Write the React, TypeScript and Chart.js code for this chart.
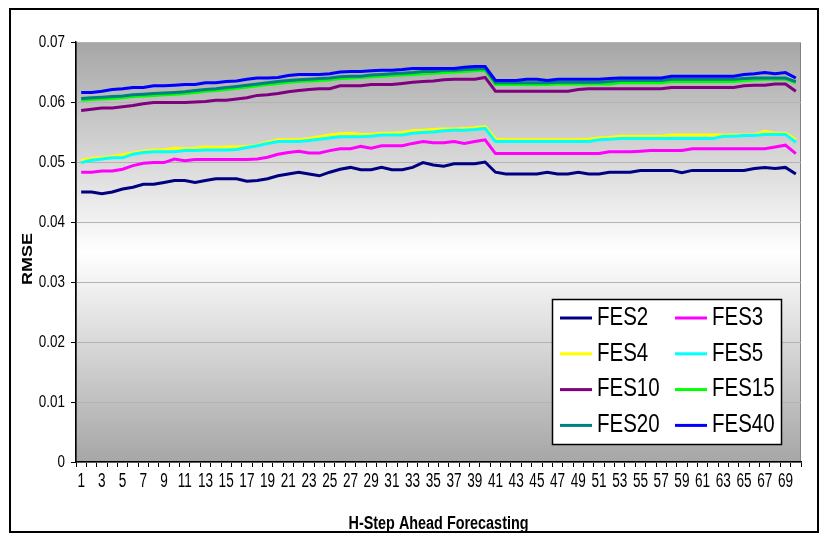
import { useEffect, useRef } from "react";
import { Chart, registerables } from "chart.js";

Chart.register(...registerables);

const FONT = "'Liberation Sans', Arial, Helvetica, sans-serif";

// Forecast horizon (steps ahead)
const steps = [
  "1", "2", "3", "4", "5", "6", "7", "8", "9", "10",
  "11", "12", "13", "14", "15", "16", "17", "18", "19", "20",
  "21", "22", "23", "24", "25", "26", "27", "28", "29", "30",
  "31", "32", "33", "34", "35", "36", "37", "38", "39", "40",
  "41", "42", "43", "44", "45", "46", "47", "48", "49", "50",
  "51", "52", "53", "54", "55", "56", "57", "58", "59", "60",
  "61", "62", "63", "64", "65", "66", "67", "68", "69", "70",
];

const yTicks = [0, 0.01, 0.02, 0.03, 0.04, 0.05, 0.06, 0.07];
const yTickLabels = ["0", "0.01", "0.02", "0.03", "0.04", "0.05", "0.06", "0.07"];

const xTitle = "H-Step Ahead Forecasting";
const yTitle = "RMSE";

// RMSE per horizon for each feature-set size
const fes2 = [
  0.0450, 0.0450, 0.0447, 0.0450, 0.0455, 0.0458, 0.0463, 0.0463, 0.0466, 0.0469,
  0.0469, 0.0466, 0.0469, 0.0472, 0.0472, 0.0472, 0.0468, 0.0469, 0.0472, 0.0477,
  0.0480, 0.0483, 0.0480, 0.0477, 0.0483, 0.0488, 0.0491, 0.0487, 0.0487, 0.0491,
  0.0487, 0.0487, 0.0491, 0.0499, 0.0495, 0.0493, 0.0497, 0.0497, 0.0497, 0.0500,
  0.0483, 0.0480, 0.0480, 0.0480, 0.0480, 0.0483, 0.0480, 0.0480, 0.0483, 0.0480,
  0.0480, 0.0483, 0.0483, 0.0483, 0.0486, 0.0486, 0.0486, 0.0486, 0.0482, 0.0486,
  0.0486, 0.0486, 0.0486, 0.0486, 0.0486, 0.0489, 0.0491, 0.0489, 0.0491, 0.0480,
];
const fes3 = [
  0.0483, 0.0483, 0.0485, 0.0485, 0.0488, 0.0494, 0.0498, 0.0499, 0.0499, 0.0505,
  0.0502, 0.0504, 0.0504, 0.0504, 0.0504, 0.0504, 0.0504, 0.0505, 0.0508, 0.0513,
  0.0516, 0.0518, 0.0515, 0.0515, 0.0519, 0.0522, 0.0522, 0.0526, 0.0523, 0.0527,
  0.0527, 0.0527, 0.0531, 0.0534, 0.0532, 0.0532, 0.0534, 0.0531, 0.0534, 0.0537,
  0.0514, 0.0514, 0.0514, 0.0514, 0.0514, 0.0514, 0.0514, 0.0514, 0.0514, 0.0514,
  0.0514, 0.0517, 0.0517, 0.0517, 0.0518, 0.0519, 0.0519, 0.0519, 0.0519, 0.0522,
  0.0522, 0.0522, 0.0522, 0.0522, 0.0522, 0.0522, 0.0522, 0.0525, 0.0528, 0.0514,
];
const fes4 = [
  0.0503, 0.0506, 0.0507, 0.0509, 0.0512, 0.0515, 0.0518, 0.0520, 0.0520, 0.0523,
  0.0522, 0.0523, 0.0525, 0.0524, 0.0525, 0.0525, 0.0526, 0.0528, 0.0533, 0.0537,
  0.0537, 0.0537, 0.0539, 0.0542, 0.0545, 0.0547, 0.0548, 0.0546, 0.0546, 0.0548,
  0.0548, 0.0549, 0.0552, 0.0553, 0.0554, 0.0555, 0.0555, 0.0556, 0.0557, 0.0559,
  0.0538, 0.0537, 0.0537, 0.0537, 0.0537, 0.0537, 0.0537, 0.0537, 0.0537, 0.0538,
  0.0540, 0.0541, 0.0543, 0.0543, 0.0543, 0.0543, 0.0543, 0.0545, 0.0545, 0.0545,
  0.0545, 0.0545, 0.0545, 0.0545, 0.0545, 0.0545, 0.0551, 0.0548, 0.0548, 0.0537,
];
const fes5 = [
  0.0499, 0.0503, 0.0505, 0.0507, 0.0507, 0.0513, 0.0516, 0.0517, 0.0517, 0.0517,
  0.0519, 0.0519, 0.0520, 0.0520, 0.0520, 0.0521, 0.0524, 0.0527, 0.0531, 0.0534,
  0.0534, 0.0534, 0.0536, 0.0538, 0.0540, 0.0542, 0.0542, 0.0542, 0.0543, 0.0545,
  0.0545, 0.0545, 0.0548, 0.0549, 0.0550, 0.0552, 0.0553, 0.0553, 0.0554, 0.0556,
  0.0534, 0.0534, 0.0534, 0.0534, 0.0534, 0.0534, 0.0534, 0.0534, 0.0534, 0.0534,
  0.0537, 0.0538, 0.0539, 0.0539, 0.0539, 0.0539, 0.0539, 0.0539, 0.0539, 0.0539,
  0.0539, 0.0539, 0.0543, 0.0543, 0.0544, 0.0544, 0.0546, 0.0546, 0.0546, 0.0533,
];
const fes10 = [
  0.0586, 0.0588, 0.0590, 0.0590, 0.0592, 0.0594, 0.0597, 0.0599, 0.0599, 0.0599,
  0.0599, 0.0600, 0.0601, 0.0603, 0.0603, 0.0605, 0.0607, 0.0611, 0.0612, 0.0614,
  0.0617, 0.0619, 0.0621, 0.0622, 0.0622, 0.0627, 0.0627, 0.0627, 0.0629, 0.0629,
  0.0629, 0.0631, 0.0633, 0.0634, 0.0635, 0.0637, 0.0638, 0.0638, 0.0638, 0.0641,
  0.0618, 0.0618, 0.0618, 0.0618, 0.0618, 0.0618, 0.0618, 0.0618, 0.0621, 0.0622,
  0.0622, 0.0622, 0.0622, 0.0622, 0.0622, 0.0622, 0.0622, 0.0624, 0.0624, 0.0624,
  0.0624, 0.0624, 0.0624, 0.0624, 0.0627, 0.0628, 0.0628, 0.0630, 0.0630, 0.0618,
];
const fes15 = [
  0.0603, 0.0604, 0.0605, 0.0606, 0.0607, 0.0609, 0.0610, 0.0611, 0.0612, 0.0613,
  0.0614, 0.0616, 0.0618, 0.0619, 0.0621, 0.0623, 0.0625, 0.0627, 0.0629, 0.0631,
  0.0633, 0.0634, 0.0635, 0.0636, 0.0637, 0.0639, 0.0640, 0.0641, 0.0642, 0.0643,
  0.0644, 0.0645, 0.0646, 0.0647, 0.0648, 0.0649, 0.0650, 0.0651, 0.0652, 0.0653,
  0.0629, 0.0629, 0.0629, 0.0629, 0.0629, 0.0629, 0.0630, 0.0630, 0.0630, 0.0630,
  0.0630, 0.0630, 0.0632, 0.0632, 0.0632, 0.0632, 0.0632, 0.0634, 0.0634, 0.0634,
  0.0634, 0.0634, 0.0634, 0.0634, 0.0636, 0.0637, 0.0638, 0.0638, 0.0638, 0.0632,
];
const fes20 = [
  0.0606, 0.0607, 0.0608, 0.0609, 0.0610, 0.0612, 0.0613, 0.0614, 0.0615, 0.0616,
  0.0617, 0.0619, 0.0621, 0.0622, 0.0624, 0.0626, 0.0628, 0.0630, 0.0632, 0.0634,
  0.0636, 0.0637, 0.0638, 0.0639, 0.0640, 0.0642, 0.0643, 0.0643, 0.0645, 0.0646,
  0.0647, 0.0648, 0.0649, 0.0651, 0.0651, 0.0653, 0.0653, 0.0654, 0.0655, 0.0656,
  0.0632, 0.0632, 0.0632, 0.0632, 0.0632, 0.0632, 0.0633, 0.0633, 0.0633, 0.0633,
  0.0633, 0.0634, 0.0636, 0.0636, 0.0636, 0.0636, 0.0636, 0.0638, 0.0638, 0.0638,
  0.0638, 0.0638, 0.0638, 0.0638, 0.0639, 0.0640, 0.0640, 0.0640, 0.0640, 0.0634,
];
const fes40 = [
  0.0616, 0.0616, 0.0618, 0.0621, 0.0622, 0.0624, 0.0624, 0.0627, 0.0627, 0.0628,
  0.0629, 0.0629, 0.0632, 0.0632, 0.0634, 0.0635, 0.0638, 0.0640, 0.0640, 0.0641,
  0.0644, 0.0646, 0.0646, 0.0646, 0.0647, 0.0650, 0.0651, 0.0651, 0.0652, 0.0653,
  0.0653, 0.0654, 0.0656, 0.0656, 0.0656, 0.0656, 0.0656, 0.0658, 0.0659, 0.0659,
  0.0636, 0.0636, 0.0636, 0.0638, 0.0638, 0.0636, 0.0638, 0.0638, 0.0638, 0.0638,
  0.0638, 0.0639, 0.0640, 0.0640, 0.0640, 0.0640, 0.0640, 0.0643, 0.0643, 0.0643,
  0.0643, 0.0643, 0.0643, 0.0643, 0.0646, 0.0647, 0.0649, 0.0647, 0.0649, 0.0640,
];

const seriesNames = ["FES2", "FES3", "FES4", "FES5", "FES10", "FES15", "FES20", "FES40"];
const seriesValues = [fes2, fes3, fes4, fes5, fes10, fes15, fes20, fes40];
const seriesColors = ["#000080", "#ff00ff", "#ffff00", "#00ffff", "#800080", "#00ff00", "#008080", "#0000ff"];

// Draws text squeezed horizontally (narrow lettering)
function narrowText(ctx: CanvasRenderingContext2D, text: string, x: number, y: number, sx: number, align: CanvasTextAlign) {
  ctx.save();
  ctx.translate(x, y);
  ctx.scale(sx, 1);
  ctx.textAlign = align;
  ctx.fillText(text, 0, 0);
  ctx.restore();
}

// Gray-white-gray plot background, plot frame and outer border
const backdropPlugin = {
  id: "backdrop",
  beforeDraw(chart: any) {
    const { ctx, chartArea: a, width, height } = chart;
    ctx.save();
    ctx.fillStyle = "#ffffff";
    ctx.fillRect(0, 0, width, height);
    const g = ctx.createLinearGradient(0, a.top, 0, a.bottom);
    g.addColorStop(0, "#a6a6a6");
    g.addColorStop(0.5, "#ffffff");
    g.addColorStop(1, "#a6a6a6");
    ctx.fillStyle = g;
    ctx.fillRect(a.left, a.top, a.right - a.left, a.bottom - a.top);
    ctx.strokeStyle = "#808080";
    ctx.lineWidth = 1;
    ctx.strokeRect(a.left + 0.5, a.top + 0.5, a.right - a.left - 1, a.bottom - a.top - 1);
    ctx.strokeStyle = "#000000";
    ctx.lineWidth = 2;
    ctx.strokeRect(10, 9, 808, 523);
    ctx.restore();
  },
};

// Tick labels and axis titles in narrow lettering, placed from the scales
const axisTextPlugin = {
  id: "axisText",
  afterDraw(chart: any) {
    const { ctx, chartArea: a } = chart;
    const xs = chart.scales.x;
    const ys = chart.scales.y;
    ctx.save();
    ctx.fillStyle = "#000000";

    ctx.font = `17px ${FONT}`;
    ctx.textBaseline = "middle";
    yTicks.forEach((v, i) => {
      narrowText(ctx, yTickLabels[i], ys.right - 11, ys.getPixelForValue(v), 0.79, "right");
    });

    ctx.font = `20px ${FONT}`;
    ctx.textBaseline = "alphabetic";
    steps.forEach((s, i) => {
      if (i % 2 === 0) narrowText(ctx, s, xs.getPixelForTick(i), a.bottom + 25, 0.68, "center");
    });

    ctx.font = `bold 18px ${FONT}`;
    ctx.textBaseline = "alphabetic";
    narrowText(ctx, xTitle, (a.left + a.right) / 2, a.bottom + 67, 0.8, "center");

    ctx.save();
    ctx.translate(ys.left + 28, (a.top + a.bottom) / 2 + 7);
    ctx.rotate(-Math.PI / 2);
    ctx.scale(1, 0.8);
    ctx.textAlign = "center";
    ctx.textBaseline = "middle";
    ctx.fillText(yTitle, 0, 0);
    ctx.restore();

    ctx.restore();
  },
};

// Two-column boxed legend inside the plot
const boxLegendPlugin = {
  id: "boxLegend",
  afterDraw(chart: any) {
    const { ctx, chartArea: a } = chart;
    const boxW = 229;
    const boxH = 145;
    const x0 = a.right - 20 - boxW;
    const y0 = a.bottom - 18 - boxH;
    ctx.save();
    ctx.fillStyle = "#ffffff";
    ctx.fillRect(x0, y0, boxW, boxH);
    ctx.strokeStyle = "#000000";
    ctx.lineWidth = 1.5;
    ctx.strokeRect(x0 + 0.5, y0 + 0.5, boxW, boxH);
    ctx.font = `25px ${FONT}`;
    ctx.textBaseline = "middle";
    chart.data.datasets.forEach((ds: any, i: number) => {
      const col = i % 2;
      const row = Math.floor(i / 2);
      const lx = x0 + 8 + col * 115;
      const ly = y0 + 19 + row * 35.8;
      ctx.strokeStyle = ds.borderColor;
      ctx.lineWidth = 3;
      ctx.beginPath();
      ctx.moveTo(lx, ly);
      ctx.lineTo(lx + 32, ly);
      ctx.stroke();
      ctx.fillStyle = "#000000";
      narrowText(ctx, ds.label, lx + 37, ly, 0.82, "left");
    });
    ctx.restore();
  },
};

export default function App() {
  const ref = useRef<HTMLCanvasElement>(null);

  useEffect(() => {
    if (!ref.current) return;
    const chart = new Chart(ref.current, {
      type: "line",
      data: {
        labels: steps,
        datasets: seriesNames.map((name, i) => ({
          label: name,
          data: seriesValues[i],
          borderColor: seriesColors[i],
          backgroundColor: seriesColors[i],
          borderWidth: 3,
          pointRadius: 0,
          tension: 0,
          fill: false,
          order: seriesNames.length - i,
        })),
      },
      options: {
        responsive: false,
        animation: false,
        devicePixelRatio: 1,
        layout: { padding: { left: 0, top: 42, right: 24, bottom: 0 } },
        plugins: {
          legend: { display: false },
          tooltip: { enabled: false },
        },
        scales: {
          x: {
            type: "category",
            offset: true,
            grid: {
              offset: true,
              drawOnChartArea: false,
              tickLength: 5,
              tickColor: "#000000",
            },
            border: { color: "#000000", width: 1.5 },
            ticks: { display: false, autoSkip: false },
            afterFit: (scale: any) => {
              scale.height = 79;
            },
          },
          y: {
            min: 0,
            max: 0.07,
            afterBuildTicks: (scale: any) => {
              scale.ticks = yTicks.map((v) => ({ value: v }));
            },
            grid: {
              color: "#b3b3b3",
              lineWidth: 1,
              tickLength: 5,
              tickColor: "#000000",
            },
            border: { color: "#000000", width: 1.5 },
            ticks: { display: false },
            afterFit: (scale: any) => {
              scale.width = 76;
            },
          },
        },
      },
      plugins: [backdropPlugin, axisTextPlugin, boxLegendPlugin],
    });
    return () => chart.destroy();
  }, []);

  return (
    <div style={{ position: "absolute", left: 0, top: 0, width: 825, height: 541, background: "#ffffff" }}>
      <canvas ref={ref} width={825} height={541} />
    </div>
  );
}
